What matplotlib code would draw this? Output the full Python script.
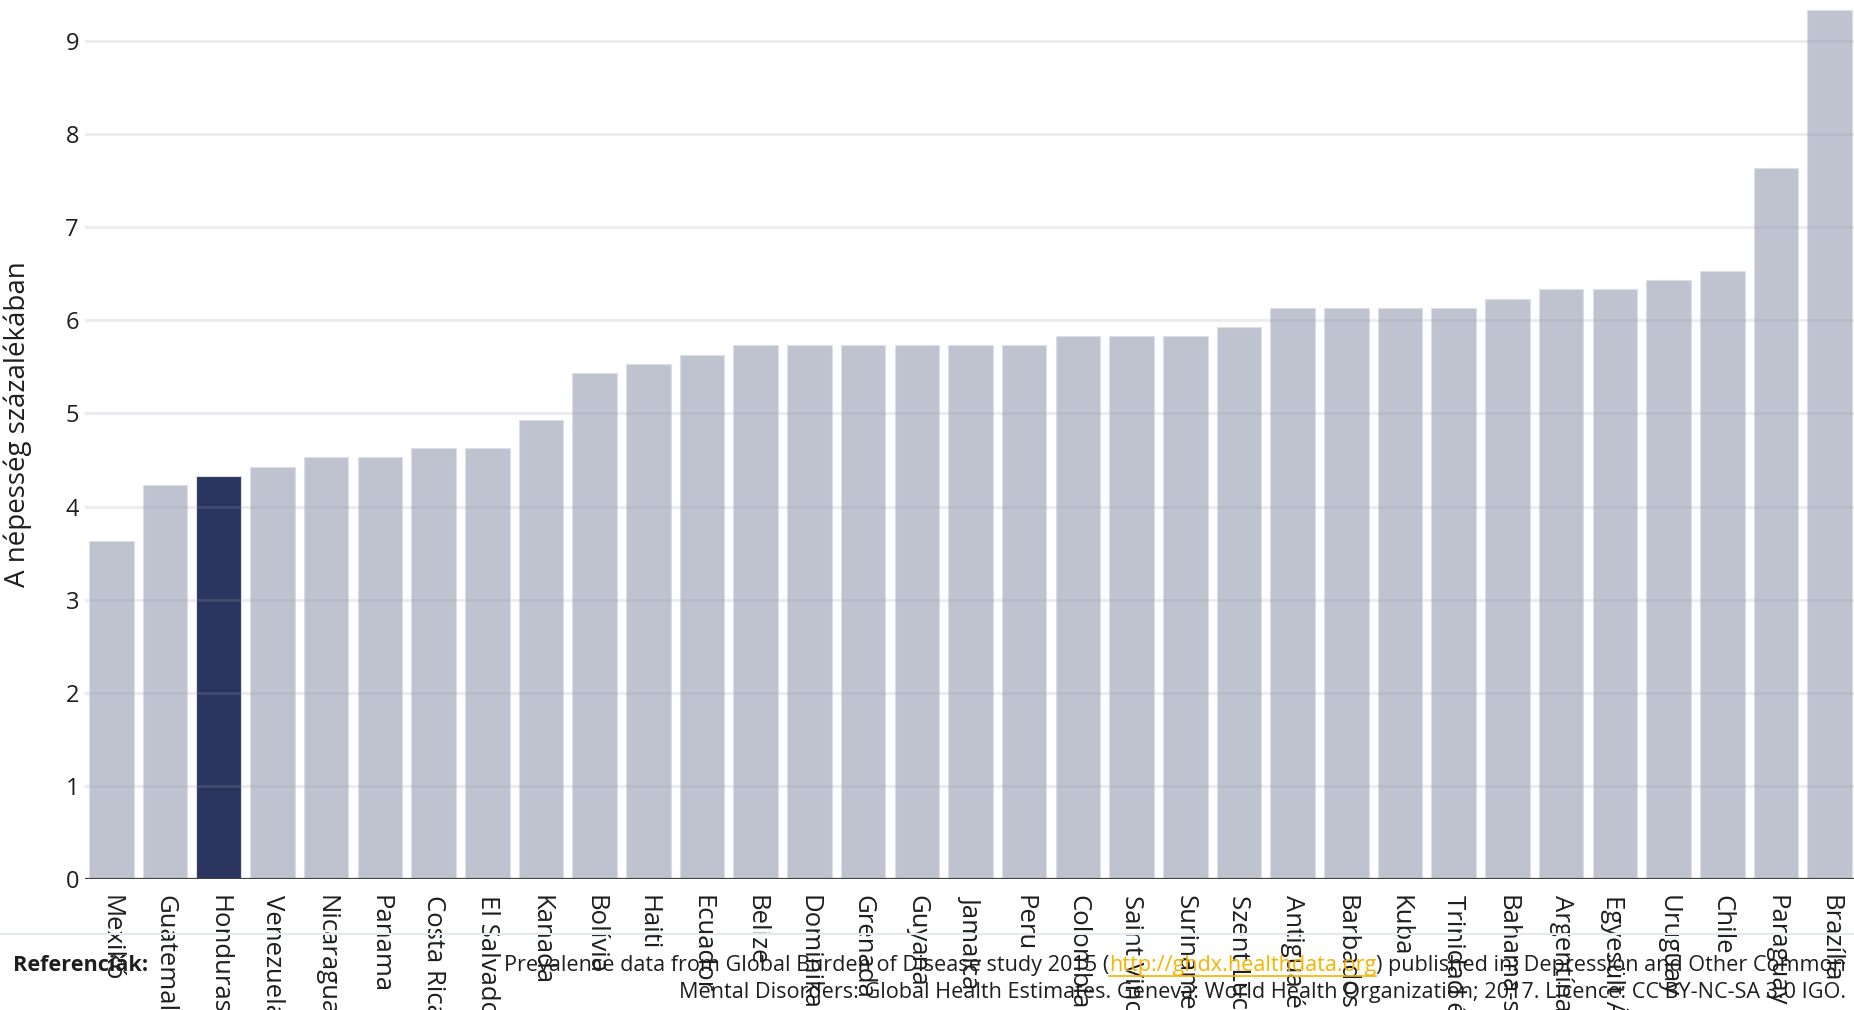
import matplotlib
matplotlib.use("Agg")
import matplotlib.pyplot as plt
from matplotlib.lines import Line2D

# --- data ---
countries = [
    "Mexikó", "Guatemala", "Honduras", "Venezuela", "Nicaragua", "Panama",
    "Costa Rica", "El Salvador", "Kanada", "Bolívia", "Haiti", "Ecuador",
    "Belize", "Dominika", "Grenada", "Guyana", "Jamaica", "Peru", "Colombia",
    "Saint Vincent és a Grenadine-szigetek", "Suriname", "Szent Lucia",
    "Antigua és Barbuda", "Barbados", "Kuba", "Trinidad és Tobago",
    "Bahama-szigetek", "Argentína", "Egyesült Államok", "Uruguay", "Chile",
    "Paraguay", "Brazília",
]
values = [
    3.63, 4.23, 4.33, 4.43, 4.53, 4.53, 4.63, 4.63, 4.93, 5.43, 5.53, 5.63,
    5.73, 5.73, 5.73, 5.73, 5.73, 5.73, 5.83, 5.83, 5.83, 5.93, 6.13, 6.13,
    6.13, 6.13, 6.23, 6.33, 6.33, 6.43, 6.53, 7.63, 9.33,
]
highlight = "Honduras"
y_ticks = [0, 1, 2, 3, 4, 5, 6, 7, 8, 9]

ylabel = "A népesség százalékában"
ref_label = "Referenciák:"
ref_pre = "Prevalence data from Global Burden of Disease study 2015 ("
ref_url = "http://ghdx.healthdata.org"
ref_post = ") published in: Depression and Other Common"
ref_line2 = ("Mental Disorders: Global Health Estimates. Geneva: World Health "
             "Organization; 2017. Licence: CC BY-NC-SA 3.0 IGO.")

# --- style ---
FONT = ["Open Sans", "DejaVu Sans"]
TEXT = "#1e1e1e"
BAR = "#bfc3d0"
BAR_HI = "#2b3660"
URL = "#f5b400"
W, H = 1854, 1010

plt.rcParams["font.family"] = FONT

fig = plt.figure(figsize=(W / 100, H / 100), dpi=100)
ax = fig.add_axes([84.5 / W, 1 - 879.3 / H, 1772 / W, 879.3 / H])

colors = [BAR_HI if c == highlight else BAR for c in countries]
x = range(len(countries))
ax.bar(x, values, width=0.83, color=colors, edgecolor="#dcdfe7",
       linewidth=0.8, zorder=2)

ax.set_xlim(-0.5, len(countries) - 0.5)
ax.set_ylim(0, 879.3 / 93.18)
ax.set_yticks(y_ticks)
ax.set_xticks(list(x))
ax.set_xticklabels(countries, rotation=-90, fontsize=18.5, color=TEXT)
ax.tick_params(axis="x", length=0, pad=11)
ax.tick_params(axis="y", length=0, pad=4, labelsize=17, labelcolor=TEXT)

ax.grid(axis="y", color="#9a9cb0", alpha=0.2, linewidth=2, zorder=3)
ax.set_axisbelow(False)
for s in ax.spines.values():
    s.set_visible(False)
ax.axhline(0, color="#444444", linewidth=1.6, zorder=4)

fig.text(18 / W, 1 - 424 / H, ylabel, rotation=90, ha="center", va="center",
         fontsize=20, color=TEXT)

# footer separator
fig.add_artist(Line2D([0, 1], [1 - 934 / H, 1 - 934 / H],
                      transform=fig.transFigure, color="#e4e8f3", linewidth=1.5))

fs = 15.6
base1 = 1 - 971 / H
base2 = 1 - 998 / H
right = 1846 / W

fig.text(13 / W, base1, ref_label, ha="left", va="baseline", fontsize=fs,
         fontweight="bold", color=TEXT)

# first line is pieced together right to left so the link can be coloured
renderer = fig.canvas.get_renderer()
inv = fig.transFigure.inverted()
t_post = fig.text(right, base1, ref_post, ha="right", va="baseline",
                  fontsize=fs, color=TEXT)
bb = t_post.get_window_extent(renderer)
x_url_r = inv.transform((bb.x0, 0))[0]
t_url = fig.text(x_url_r, base1, ref_url, ha="right", va="baseline",
                 fontsize=fs, color=URL)
bb = t_url.get_window_extent(renderer)
x_url_l = inv.transform((bb.x0, 0))[0]
y_ul = base1 - 5 / H
fig.add_artist(Line2D([x_url_l, x_url_r], [y_ul, y_ul],
                      transform=fig.transFigure, color=URL, linewidth=1.2))
fig.text(x_url_l, base1, ref_pre, ha="right", va="baseline", fontsize=fs,
         color=TEXT)

fig.text(right, base2, ref_line2, ha="right", va="baseline", fontsize=fs,
         color=TEXT)

fig.savefig("out.png", dpi=100)
